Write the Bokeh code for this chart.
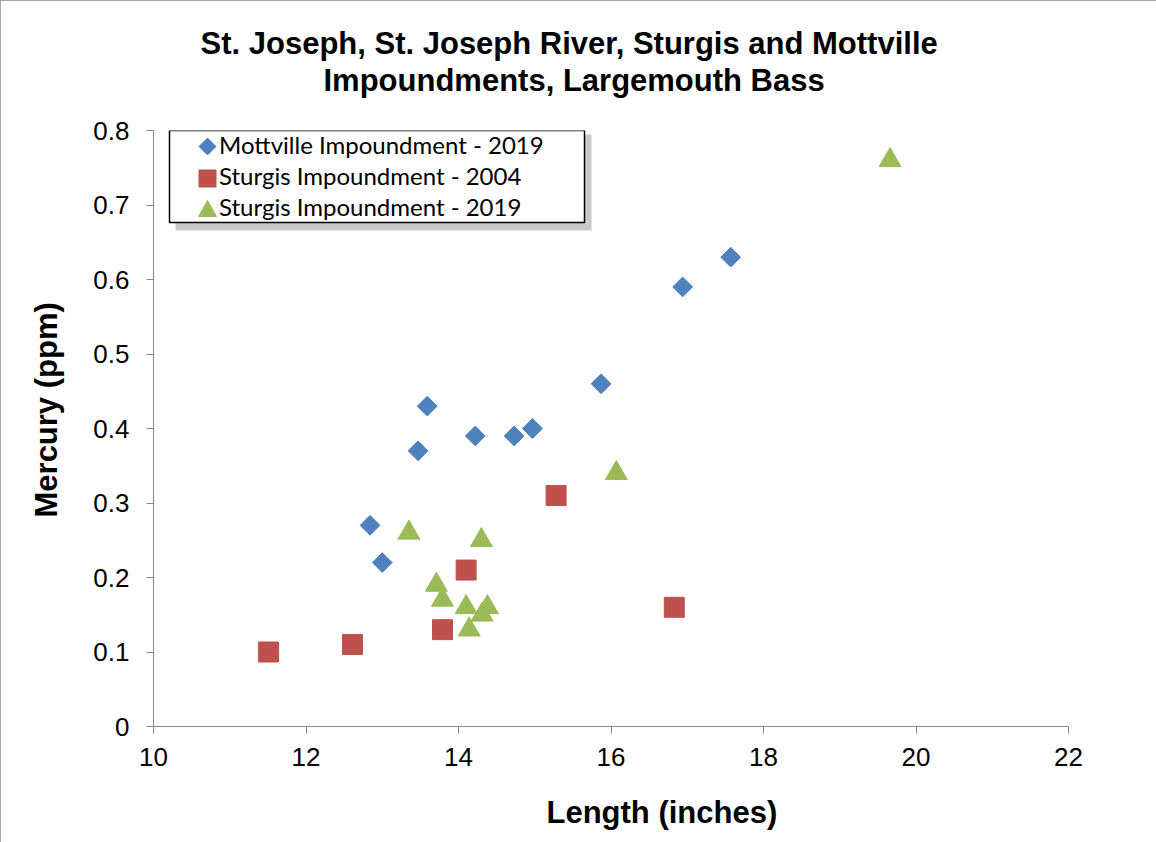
import math
from bokeh.plotting import figure
from bokeh.models import Range1d, Legend, LegendItem, Title, BoxAnnotation, PolyAnnotation, FixedTicker
from bokeh.embed import file_html
from bokeh.resources import INLINE

# ---- data ----
mott_len = [12.84, 13.00, 13.47, 13.59, 14.22, 14.73, 14.97, 15.87, 16.94, 17.57]
mott_hg = [0.27, 0.22, 0.37, 0.43, 0.39, 0.39, 0.40, 0.46, 0.59, 0.63]

st04_len = [11.51, 12.61, 13.79, 14.10, 15.28, 16.83]
st04_hg = [0.10, 0.11, 0.13, 0.21, 0.31, 0.16]

st19_len = [13.35, 13.71, 13.79, 14.10, 14.14, 14.30, 14.31, 14.38, 16.07, 19.66]
st19_hg = [0.26, 0.19, 0.17, 0.16, 0.13, 0.25, 0.15, 0.16, 0.34, 0.76]

x_ticks = [10, 12, 14, 16, 18, 20, 22]
y_ticks = [0, 0.1, 0.2, 0.3, 0.4, 0.5, 0.6, 0.7, 0.8]

series_names = ["Mottville Impoundment - 2019", "Sturgis Impoundment - 2004", "Sturgis Impoundment - 2019"]
series_colors = ["#4F81BD", "#C0504D", "#9BBB59"]
title_lines = ["St. Joseph, St. Joseph River, Sturgis and Mottville", "Impoundments, Largemouth Bass"]
x_title = "Length (inches)"
y_title = "Mercury (ppm)"

FONT = "Liberation Sans"
AXIS_GRAY = "#868686"

p = figure(width=1156, height=842, output_backend="svg", toolbar_location=None,
           x_range=Range1d(10, 22), y_range=Range1d(0, 0.8),
           min_border_left=152, min_border_right=88, min_border_top=130, min_border_bottom=116)
p.outline_line_color = None
p.xgrid.visible = False
p.ygrid.visible = False
p.background_fill_color = "white"
p.border_fill_color = "white"
p.styles = {"outline": "1px solid #8c8c8c", "outline-offset": "-1px"}

for ax in (p.xaxis, p.yaxis):
    ax.axis_line_color = AXIS_GRAY
    ax.major_tick_line_color = AXIS_GRAY
    ax.minor_tick_line_color = None
    ax.major_tick_out = 7
    ax.major_tick_in = 0
    ax.major_label_text_font = FONT
    ax.major_label_text_font_size = "26px"
    ax.major_label_text_color = "black"
p.xaxis.ticker = FixedTicker(ticks=x_ticks)
p.yaxis.ticker = FixedTicker(ticks=y_ticks)
p.xaxis.major_label_overrides = {t: str(t) for t in x_ticks}
p.yaxis.major_label_overrides = {t: ("0" if t == 0 else f"{t:.1f}") for t in y_ticks}
p.xaxis.major_label_standoff = 14
p.yaxis.major_label_standoff = 17

r1 = p.scatter(mott_len, mott_hg, marker="square", size=14, angle=math.pi / 4,
               fill_color=series_colors[0], line_color=series_colors[0])
r2 = p.scatter(st04_len, st04_hg, marker="square", size=20,
               fill_color=series_colors[1], line_color=series_colors[1])
r3 = p.scatter(st19_len, st19_hg, marker="triangle", size=22,
               fill_color=series_colors[2], line_color=series_colors[2])

# invisible stand-ins so the legend keeps its rows; the keys are drawn below
dummies = [p.scatter([], [], marker="square", alpha=0) for _ in range(3)]

# legend shadow and box (screen units relative to the plot frame)
p.add_layout(BoxAnnotation(left=22, right=438, top=592, bottom=496,
                           left_units="screen", right_units="screen",
                           top_units="screen", bottom_units="screen",
                           fill_color="#8a8a8a", fill_alpha=0.45, line_color=None))
p.add_layout(BoxAnnotation(left=16, right=431, top=596, bottom=504,
                           left_units="screen", right_units="screen",
                           top_units="screen", bottom_units="screen",
                           fill_color="white", fill_alpha=1,
                           line_color="black", line_width=1.5, line_alpha=1))

legend = Legend(items=[LegendItem(label=n, renderers=[d]) for n, d in zip(series_names, dummies)],
                location=(19, 505))
legend.border_line_color = None
legend.background_fill_alpha = 0
legend.label_text_font = "Lato"
legend.label_text_font_size = "24px"
legend.label_text_color = "black"
legend.glyph_width = 42
legend.glyph_height = 28
legend.label_height = 28
legend.label_standoff = 5
legend.label_width = 360
legend.spacing = 2
legend.padding = 6
legend.margin = 0
p.add_layout(legend)

# legend keys (screen units relative to the plot frame)
kx, h = 54, 8.5
rows_y = [580, 548, 518]
keys = [
    ([kx, kx + h, kx, kx - h], [rows_y[0] + h, rows_y[0], rows_y[0] - h, rows_y[0]]),
    ([kx - h, kx + h, kx + h, kx - h], [rows_y[1] + h, rows_y[1] + h, rows_y[1] - h, rows_y[1] - h]),
    ([kx, kx + 9, kx - 9], [rows_y[2] + 8, rows_y[2] - 8, rows_y[2] - 8]),
]
for (xs, ys), c in zip(keys, series_colors):
    p.add_layout(PolyAnnotation(xs=xs, ys=ys, xs_units="screen", ys_units="screen",
                                fill_color=c, fill_alpha=1, line_color=c, line_alpha=1,
                                level="overlay"))

TITLE_STYLE = dict(text_font=FONT, text_font_size="31px", text_font_style="bold", text_color="black")

# chart title: first line is the plot title (outermost), second line sits below it
p.title.text = title_lines[0]
p.title.align = "left"
p.title.offset = 47
p.title.standoff = 0
p.title.text_font = FONT
p.title.text_font_size = "31px"
p.title.text_font_style = "bold"
p.title.text_color = "black"
p.add_layout(Title(text=" ", text_font_size="10px", standoff=20), "above")
p.add_layout(Title(text=title_lines[1], align="left", offset=170, standoff=0, **TITLE_STYLE), "above")

# axis titles
p.add_layout(Title(text=y_title, align="left", offset=209, standoff=53, **TITLE_STYLE), "left")
p.add_layout(Title(text=" ", text_font_size="10px", standoff=13), "below")
p.add_layout(Title(text=x_title, align="left", offset=393, vertical_align="top", standoff=0,
                   **TITLE_STYLE), "below")

open("out.html", "w").write(file_html(p, INLINE))
